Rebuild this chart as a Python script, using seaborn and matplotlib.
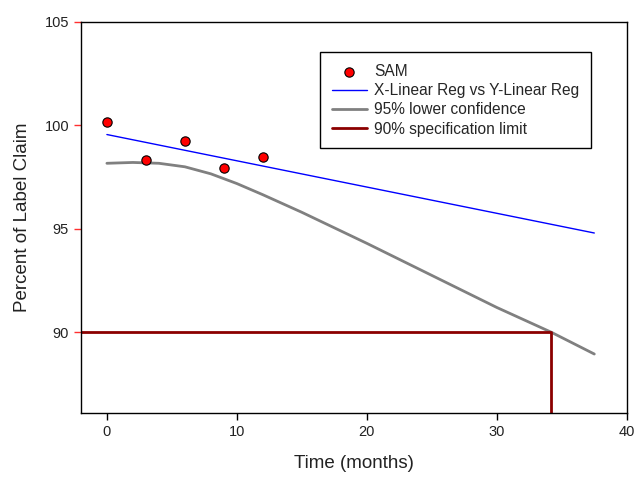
import matplotlib
matplotlib.use("Agg")
import matplotlib.pyplot as plt
import seaborn as sns

# Stability data: assay results over time
months = [0, 3, 6, 9, 12]
label_claim = [100.15, 98.35, 99.25, 97.95, 98.45]

# Regression line end points
reg_x = [0, 37.5]
reg_y = [99.56, 94.8]

# 95% lower confidence bound of the regression
conf_x = [0, 2, 4, 6, 8, 10, 12, 15, 20, 25, 30, 34.2, 37.5]
conf_y = [98.17, 98.21, 98.17, 98.0, 97.66, 97.19, 96.65, 95.8, 94.3, 92.75, 91.2, 90.0, 88.95]

# 90% specification limit and the resulting shelf-life drop line
spec_x = [-2, 34.2, 34.2]
spec_y = [90, 90, 86.1]

sns.set_theme(style="ticks")
plt.rcParams["font.family"] = ["Liberation Sans", "DejaVu Sans"]

fig = plt.figure(figsize=(6.37, 4.78), dpi=100)
ax = fig.add_axes([0.127, 0.136, 0.857, 0.818])

sns.lineplot(x=reg_x, y=reg_y, ax=ax, color="#0000ff", lw=1.0,
             label="X-Linear Reg vs Y-Linear Reg", sort=False)
sns.lineplot(x=conf_x, y=conf_y, ax=ax, color="#808080", lw=2.0,
             label="95% lower confidence", sort=False)
ax.plot(spec_x, spec_y, color="#8b0000", lw=2.0, label="90% specification limit")
sns.scatterplot(x=months, y=label_claim, ax=ax, color="#ff0000", edgecolor="black",
                linewidth=0.8, s=45, label="SAM", zorder=5)

ax.set_xlim(-2, 40)
ax.set_ylim(86.1, 105)
ax.set_xticks([0, 10, 20, 30, 40])
ax.set_yticks([90, 95, 100, 105])

for s in ax.spines.values():
    s.set_visible(True)
    s.set_color("black")
    s.set_linewidth(1.0)

ax.tick_params(axis="x", direction="out", length=5, width=1, colors="black",
               labelsize=10.5, labelcolor="#222222")
ax.tick_params(axis="y", direction="out", length=5, width=1, colors="#ff3030",
               labelsize=10.5, labelcolor="#222222")

ax.set_xlabel("Time (months)", fontsize=13.5, color="#222222", labelpad=12)
ax.set_ylabel("Percent of Label Claim", fontsize=13.5, color="#222222", labelpad=10)

handles, labels = ax.get_legend_handles_labels()
order = ["SAM", "X-Linear Reg vs Y-Linear Reg", "95% lower confidence", "90% specification limit"]
hmap = dict(zip(labels, handles))
leg = ax.legend([hmap[k] for k in order], order, loc="upper left",
                bbox_to_anchor=(0.4377, 0.923), borderaxespad=0,
                fontsize=11.2, frameon=True,
                fancybox=False, edgecolor="black", framealpha=1,
                handlelength=2.3, handletextpad=0.45, labelspacing=0.28,
                borderpad=0.75)
leg.get_frame().set_linewidth(1.0)

fig.savefig("out.png", dpi=100)
